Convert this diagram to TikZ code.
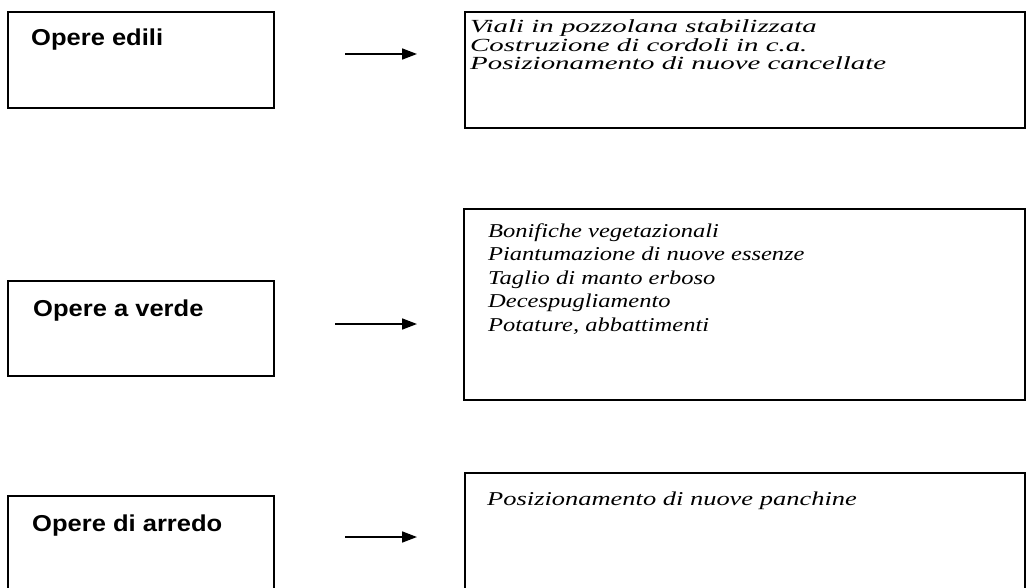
\documentclass[tikz,border=0pt]{standalone}
\usepackage{fontspec}
\usetikzlibrary{arrows.meta}
\newfontfamily\labfont[FakeStretch=1.11]{Liberation Sans}
\newfontfamily\itA[FakeStretch=1.56]{Liberation Serif}
\newfontfamily\itB[FakeStretch=1.25]{Liberation Serif}
\newfontfamily\itC[FakeStretch=1.35]{Liberation Serif}
\begin{document}
\begin{tikzpicture}[x=1pt,y=-1pt,
  box/.style={draw=black, line width=1.3pt, anchor=north west, inner sep=0pt, outer sep=0pt},
  lab/.style={anchor=base west, inner sep=0pt, font=\labfont\fontsize{23}{27}\selectfont\bfseries},
  txA/.style={anchor=base west, inner sep=0pt, font=\itA\fontsize{18.5}{22}\selectfont\itshape},
  txB/.style={anchor=base west, inner sep=0pt, font=\itB\fontsize{19.6}{22}\selectfont\itshape},
  txC/.style={anchor=base west, inner sep=0pt, font=\itC\fontsize{19.6}{22}\selectfont\itshape},
  arr/.style={line width=1.7pt, -{Triangle[length=15pt,width=11pt]}}]
\useasboundingbox (0,0) rectangle (1027,588);
\clip (0,0) rectangle (1027,588);
\fill[white] (0,0) rectangle (1027,588);
% left boxes
\node[box, minimum width=266pt, minimum height=96pt] (L1) at (8,12) {};
\node[box, minimum width=266pt, minimum height=95pt] (L2) at (8,281) {};
\node[box, minimum width=266pt, minimum height=110pt] (L3) at (8,496) {};
% right boxes
\node[box, minimum width=560pt, minimum height=116pt] (R1) at (465,12) {};
\node[box, minimum width=561pt, minimum height=191pt] (R2) at (464,209) {};
\node[box, minimum width=560pt, minimum height=130pt] (R3) at (465,473) {};
% labels
\node[lab] (l1) at (31,46) {Opere edili};
\node[lab] (l2) at (33,316) {Opere a verde};
\node[lab] (l3) at (32,531.5) {Opere di arredo};
% right texts
\node[txA] (r1a) at (470,33) {Viali in pozzolana stabilizzata};
\node[txA] (r1b) at (470,51.5) {Costruzione di cordoli in c.a.};
\node[txA] (r1c) at (470,70) {Posizionamento di nuove cancellate};
\node[txB] (r2a) at (488,237) {Bonifiche vegetazionali};
\node[txB] (r2b) at (488,260.5) {Piantumazione di nuove essenze};
\node[txB] (r2c) at (488,284) {Taglio di manto erboso};
\node[txB] (r2d) at (488,307.5) {Decespugliamento};
\node[txB] (r2e) at (488,331) {Potature, abbattimenti};
\node[txC] (r3a) at (487,505) {Posizionamento di nuove panchine};
% arrows
\coordinate (a1s) at (345,54);
\coordinate (a1e) at (417,54);
\coordinate (a2s) at (335,324);
\coordinate (a2e) at (417,324);
\coordinate (a3s) at (345,537);
\coordinate (a3e) at (417,537);
\draw[arr] (a1s) -- (a1e);
\draw[arr] (a2s) -- (a2e);
\draw[arr] (a3s) -- (a3e);
\end{tikzpicture}
\end{document}
